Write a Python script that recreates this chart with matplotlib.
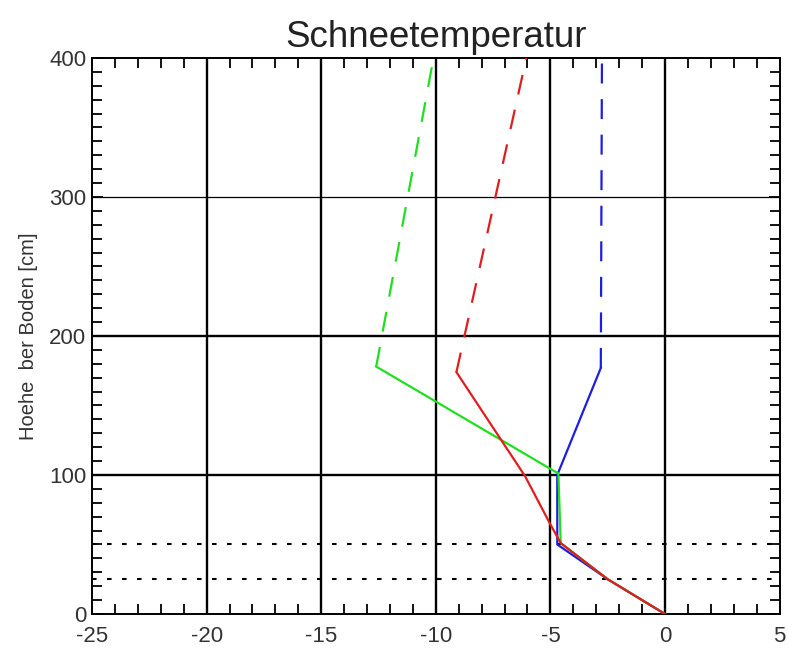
import matplotlib
matplotlib.use('Agg')
import matplotlib.pyplot as plt
from matplotlib.ticker import MultipleLocator

plt.rcParams['font.family'] = ['Liberation Sans', 'DejaVu Sans']
plt.rcParams['axes.unicode_minus'] = False

# Schneetemperatur-Profile (x: Temperatur, y: Hoehe)
blau_x = [0.0, -2.5, -4.7, -4.7, -2.8]
blau_y = [0, 25, 50, 100, 177]
blau_dash_x = [-2.8, -2.75]
blau_dash_y = [177, 400]

gruen_x = [0.0, -2.5, -4.55, -4.65, -12.6]
gruen_y = [0, 25, 51, 101, 178]
gruen_dash_x = [-12.6, -10.1]
gruen_dash_y = [178, 400]

rot_x = [0.0, -2.5, -4.55, -5.05, -6.1, -9.1]
rot_y = [0, 25, 51, 66, 99, 174]
rot_dash_x = [-9.1, -6.05]
rot_dash_y = [174, 400]

# Schichtgrenzen (gepunktet)
schicht_y = [25, 50]

fig = plt.figure(figsize=(7.88, 6.48), dpi=100)
ax = fig.add_axes([0.1168, 0.0525, 0.8725, 0.858])

# Gitter
for xv in [-20, -15, -10, -5, 0]:
    ax.axvline(xv, color='black', lw=1.7, zorder=1)
ax.axhline(100, color='black', lw=1.7, zorder=1)
ax.axhline(200, color='black', lw=1.7, zorder=1)
ax.axhline(300, color='black', lw=0.9, zorder=1)
for yv in schicht_y:
    ax.axhline(yv, color='black', lw=1.5, linestyle=(0, (2.2, 5)), zorder=1)

# Profile
lw = 1.6
ax.plot(blau_x, blau_y, color='#1e1ee0', lw=lw, zorder=3)
ax.plot(blau_dash_x, blau_dash_y, color='#1e1ee0', lw=lw, dashes=(9, 7), zorder=3)
ax.plot(gruen_x, gruen_y, color='#1ee01e', lw=lw, zorder=3)
ax.plot(gruen_dash_x, gruen_dash_y, color='#1ee01e', lw=lw, dashes=(9, 7), zorder=3)
ax.plot(rot_x, rot_y, color='#e01e1e', lw=lw, zorder=4)
ax.plot(rot_dash_x, rot_dash_y, color='#e01e1e', lw=lw, dashes=(9, 7), zorder=4)

ax.set_xlim(-25, 5)
ax.set_ylim(0, 400)
ax.xaxis.set_major_locator(MultipleLocator(5))
ax.xaxis.set_minor_locator(MultipleLocator(1))
ax.yaxis.set_major_locator(MultipleLocator(100))
ax.yaxis.set_minor_locator(MultipleLocator(10))
ax.tick_params(which='both', direction='in', top=True, right=True, width=1.3,
               labelsize=16, labelcolor='#333333')
ax.tick_params(which='major', length=8)
ax.tick_params(which='minor', length=7)
ax.tick_params(axis='x', pad=9)
ax.tick_params(axis='y', pad=4)
for s in ax.spines.values():
    s.set_linewidth(1.4)

ax.set_title('Schneetemperatur', fontsize=26.5, pad=8, color='#222222')
ax.set_ylabel('Hoehe  ber Boden [cm]', fontsize=14.5, labelpad=8, color='#333333')

fig.savefig('out.png', dpi=100)
